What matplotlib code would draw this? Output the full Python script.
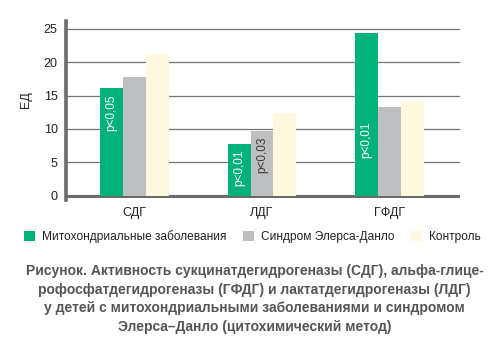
import matplotlib.pyplot as plt
import numpy as np

plt.rcParams['font.family'] = ['Liberation Sans', 'DejaVu Sans']

categories = ["СДГ", "ЛДГ", "ГФДГ"]
series_names = ["Митохондриальные заболевания", "Синдром Элерса-Данло", "Контроль"]
mito = [16.1, 7.75, 24.35]
eds = [17.75, 9.7, 13.3]
control = [21.25, 12.4, 14.2]
yticks = [0, 5, 10, 15, 20, 25]

# (group, series, text)
pvalues = [(0, 0, "p<0,05"), (1, 0, "p<0,01"), (1, 1, "p<0,03"), (2, 0, "p<0,01")]
pvalue_y = [12.4, 4.2, 6.1, 8.4]

colors = ["#00B27A", "#BEBFC1", "#FEF9DF"]
text_colors = ["white", "#3a3a3a"]

fig = plt.figure(figsize=(4.99, 3.51), dpi=100)
ax = fig.add_axes([0.1323, 0.430, 0.7896, 0.510])

x = np.arange(len(categories))
width = 0.18
offsets = [-width, 0, width]
values = [mito, eds, control]
for vals, off, col, name in zip(values, offsets, colors, series_names):
    ax.bar(x + off, vals, width, color=col, label=name, zorder=2)

for (g, s, txt), ty in zip(pvalues, pvalue_y):
    ax.text(x[g] + offsets[s], ty, txt, rotation=90, ha="center", va="center",
            fontsize=8.5, color=text_colors[s], zorder=3)

ax.set_xlim(-0.537, 2.553)
ax.set_ylim(-0.65, 26.15)
ax.set_yticks(yticks)
ax.set_xticks(x)
ax.set_xticklabels(categories)
ax.tick_params(axis="both", length=0, labelsize=9, colors="#222222")
ax.tick_params(axis="y", pad=6)
ax.tick_params(axis="x", pad=5)
for t in yticks[1:]:
    ax.axhline(t, color="#777777", lw=0.9, zorder=1)
ax.axhline(0, color="#6b6b6b", lw=2.2, zorder=1)
for sp in ["top", "right", "bottom"]:
    ax.spines[sp].set_visible(False)
ax.spines["left"].set_color("#6b6b6b")
ax.spines["left"].set_linewidth(2.6)
ax.set_ylabel("ЕД", fontsize=9, color="#222222")
ax.yaxis.set_label_coords(-0.086, 0.56)

fig.legend(loc="center", bbox_to_anchor=(0.506, 0.325), ncol=3, frameon=False,
           fontsize=8.6, handlelength=0.95, handleheight=0.95, handletextpad=0.6,
           columnspacing=1.35, labelcolor="#222222")

caption = ("Рисунок. Активность сукцинатдегидрогеназы (СДГ), альфа-глице-\n"
           "рофосфатдегидрогеназы (ГФДГ) и лактатдегидрогеназы (ЛДГ)\n"
           "у детей с митохондриальными заболеваниями и синдромом\n"
           "Элерса–Данло (цитохимический метод)")
fig.text(0.51, 0.148, caption, ha="center", va="center", fontsize=10,
         fontweight="bold", color="#555555", linespacing=1.43)

fig.savefig("out.png", dpi=100)
